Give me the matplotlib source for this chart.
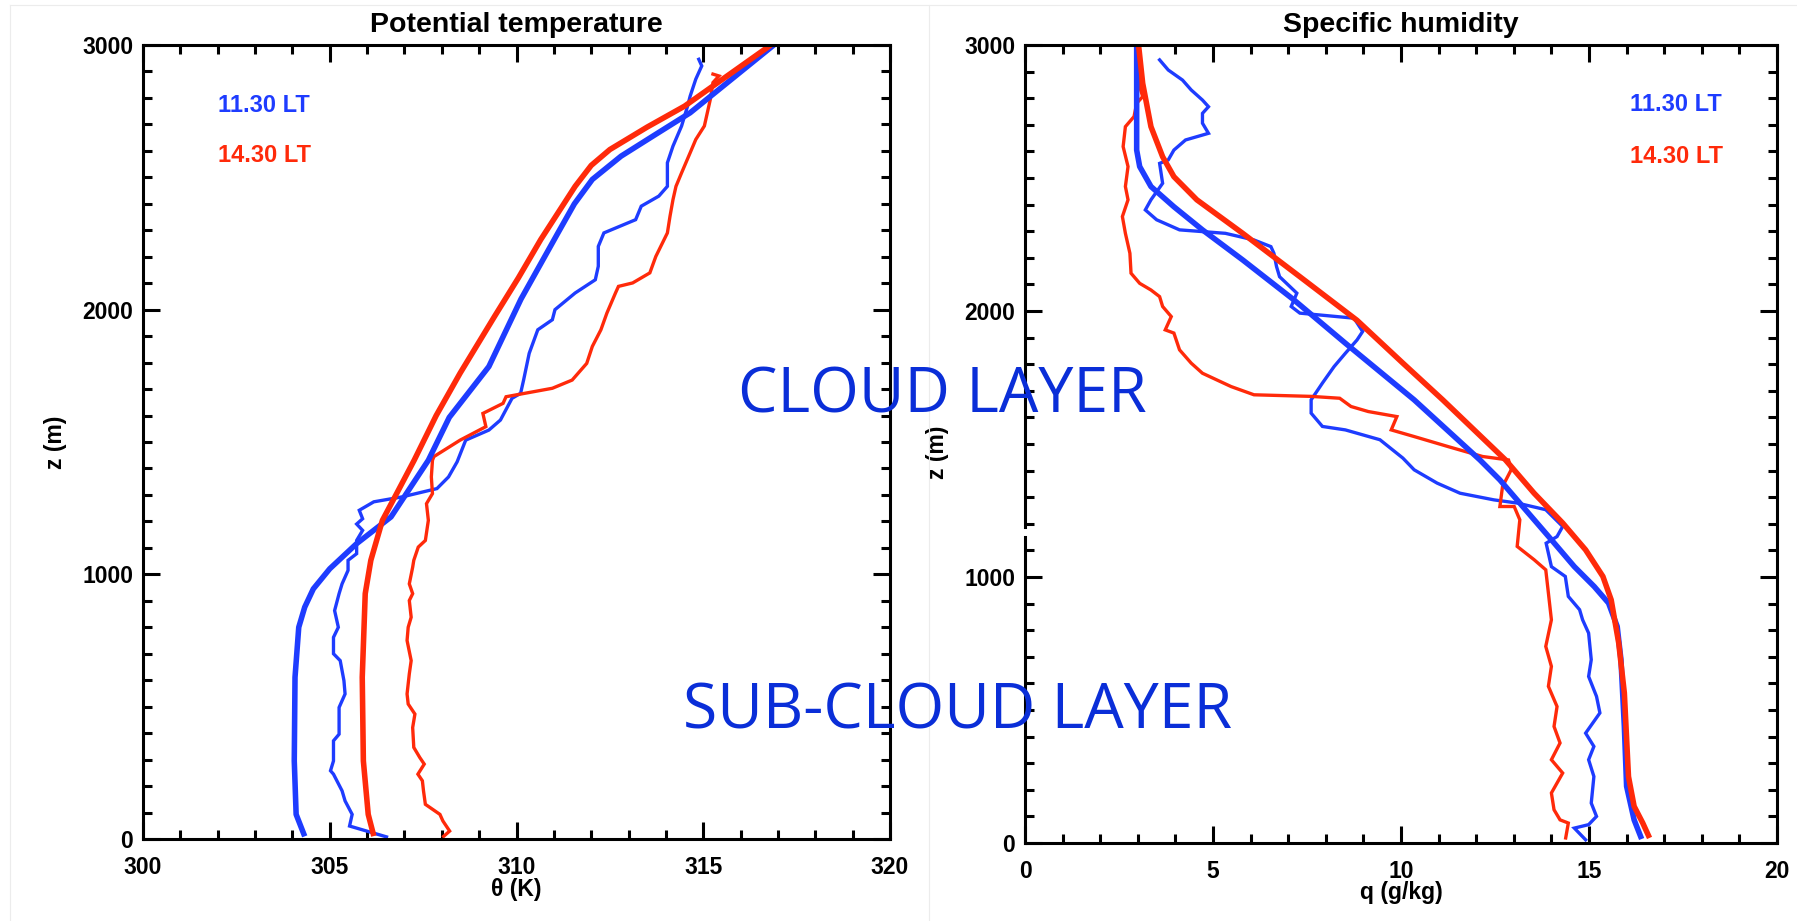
import matplotlib
matplotlib.use("Agg")
import matplotlib.pyplot as plt
from matplotlib.ticker import MultipleLocator
from matplotlib.lines import Line2D

# ---------------- data ----------------
# Potential temperature panel: model (thick) profiles
theta_mod_1130 = [304.33, 304.10, 304.05, 304.07, 304.17, 304.33, 304.56, 305.00, 305.72, 306.64,
                  307.64, 308.20, 309.26, 310.12, 311.11, 311.55, 312.03, 312.80, 313.70, 314.65,
                  316.89]
z_theta_mod_1130 = [10, 93, 295, 611, 800, 876, 945, 1021, 1116, 1217,
                    1431, 1593, 1785, 2040, 2290, 2400, 2492, 2580, 2660, 2744,
                    3000]

theta_mod_1430 = [306.18, 306.03, 305.90, 305.87, 305.95, 306.10, 306.41, 306.79, 307.26, 307.85,
                  308.49, 309.41, 310.05, 310.65, 311.57, 312.00, 312.50, 313.50, 314.50, 316.81]
z_theta_mod_1430 = [11, 93, 295, 611, 927, 1053, 1204, 1305, 1431, 1600,
                    1760, 1974, 2120, 2265, 2466, 2545, 2605, 2690, 2769, 3000]

# Potential temperature panel: observed (thin) profiles
theta_obs_1130 = [306.52, 305.53, 305.60, 305.41, 305.33, 305.10, 305.02, 305.10, 305.10, 305.25,
                  305.25, 305.41, 305.38, 305.28, 305.10, 305.10, 305.23, 305.13, 305.25, 305.33,
                  305.49, 305.49, 305.72, 305.72, 305.88, 305.72, 305.88, 305.79, 306.18, 306.95,
                  307.87, 308.18, 308.41, 308.64, 309.26, 309.57, 309.88, 310.11, 310.19, 310.34,
                  310.57, 310.96, 311.03, 311.57, 312.11, 312.19, 312.19, 312.34, 313.19, 313.34,
                  313.81, 314.04, 314.04, 314.19, 314.42, 314.58, 314.65, 314.80, 314.96, 314.88]
z_theta_obs_1130 = [8, 49, 93, 144, 182, 245, 258, 295, 371, 396,
                    497, 548, 598, 674, 700, 762, 800, 863, 927, 964,
                    1015, 1053, 1078, 1128, 1166, 1190, 1210, 1242, 1274, 1293,
                    1324, 1368, 1425, 1507, 1545, 1583, 1665, 1684, 1734, 1835,
                    1924, 1962, 2000, 2063, 2113, 2164, 2239, 2290, 2340, 2391,
                    2429, 2466, 2555, 2618, 2694, 2769, 2807, 2871, 2921, 2946]

theta_obs_1430 = [308.05, 308.21, 308.03, 307.95, 307.56, 307.51, 307.48, 307.36, 307.53, 307.41,
                  307.25, 307.22, 307.28, 307.10, 307.07, 307.13, 307.18, 307.07, 307.10, 307.18,
                  307.13, 307.22, 307.13, 307.22, 307.25, 307.37, 307.56, 307.64, 307.59, 307.75,
                  307.72, 307.75, 307.79, 308.49, 309.18, 309.10, 309.64, 309.72, 310.96, 311.49,
                  311.88, 312.03, 312.26, 312.42, 312.65, 312.73, 313.11, 313.57, 313.73, 314.04,
                  314.11, 314.19, 314.27, 314.42, 314.65, 314.80, 315.03, 315.19, 315.26, 315.42,
                  315.26]
z_theta_obs_1430 = [10, 30, 68, 93, 131, 182, 220, 245, 283, 308,
                    346, 421, 472, 510, 548, 624, 674, 750, 800, 838,
                    901, 927, 964, 1027, 1053, 1103, 1128, 1204, 1267, 1305,
                    1368, 1431, 1445, 1507, 1558, 1608, 1646, 1671, 1703, 1734,
                    1797, 1861, 1924, 1987, 2063, 2088, 2101, 2139, 2201, 2290,
                    2353, 2416, 2466, 2517, 2593, 2643, 2694, 2795, 2858, 2883,
                    2890]

# Specific humidity panel: model (thick) profiles
q_mod_1130 = [16.40, 16.20, 16.00, 15.94, 15.85, 15.75, 15.52, 15.14, 14.61, 14.00,
              13.39, 12.63, 12.10, 10.35, 8.52, 7.15, 5.79, 4.72, 3.96, 3.35,
              3.05, 2.97, 2.97, 2.97]
z_q_mod_1130 = [15, 87, 213, 438, 689, 814, 902, 964, 1039, 1140,
                1240, 1365, 1440, 1666, 1879, 2042, 2192, 2305, 2392, 2468,
                2543, 2605, 2731, 3000]

q_mod_1430 = [16.61, 16.43, 16.20, 16.05, 15.94, 15.79, 15.59, 15.37, 14.91, 14.30,
              13.54, 12.78, 11.11, 10.05, 8.83, 7.31, 5.79, 4.57, 3.96, 3.66,
              3.35, 3.13, 3.02]
z_q_mod_1430 = [19, 75, 138, 250, 564, 752, 914, 1002, 1102, 1203,
                1315, 1440, 1666, 1804, 1965, 2129, 2292, 2418, 2505, 2580,
                2693, 2856, 3000]

# Specific humidity panel: observed (thin) profiles
q_obs_1130 = [14.91, 14.61, 14.99, 15.20, 15.06, 15.13, 14.99, 15.13, 14.91, 15.29,
              15.20, 14.99, 15.06, 14.99, 14.83, 14.75, 14.45, 14.37, 14.00, 13.86,
              14.15, 14.30, 13.85, 13.09, 12.47, 11.57, 10.96, 10.35, 10.05, 9.44,
              8.52, 7.91, 7.61, 7.61, 7.91, 8.22, 8.52, 8.83, 8.98, 8.75,
              7.31, 7.08, 7.23, 6.77, 6.69, 6.62, 6.54, 6.09, 5.33, 4.11,
              3.50, 3.20, 3.35, 3.66, 3.58, 3.81, 3.96, 4.27, 4.88, 4.72,
              4.72, 4.88, 4.72, 4.42, 4.19, 3.81, 3.58]
z_q_obs_1130 = [12, 56, 69, 100, 150, 250, 313, 363, 413, 489,
                551, 626, 689, 789, 839, 877, 927, 1002, 1039, 1127,
                1152, 1190, 1253, 1278, 1290, 1315, 1353, 1403, 1447, 1516,
                1553, 1566, 1616, 1666, 1729, 1791, 1841, 1891, 1923, 1973,
                1992, 2017, 2067, 2129, 2167, 2217, 2242, 2267, 2292, 2305,
                2343, 2380, 2418, 2480, 2555, 2568, 2605, 2643, 2668, 2706,
                2743, 2768, 2793, 2831, 2868, 2906, 2944]

q_obs_1430 = [14.38, 14.45, 14.23, 14.07, 14.00, 14.30, 14.00, 14.23, 14.07, 14.15,
              13.92, 14.00, 13.85, 14.00, 13.92, 13.85, 13.54, 13.09, 13.16, 13.01,
              12.63, 12.70, 12.93, 12.86, 12.17, 11.26, 10.35, 9.74, 9.89, 9.13,
              8.67, 8.37, 7.61, 6.09, 5.48, 4.72, 4.42, 4.11, 3.96, 3.73,
              3.89, 3.66, 3.58, 3.35, 3.05, 2.82, 2.79, 2.67, 2.59, 2.74,
              2.67, 2.74, 2.61, 2.67, 2.90, 2.97, 3.13, 3.05, 3.02]
z_q_obs_1430 = [19, 75, 87, 125, 188, 263, 313, 376, 438, 513,
                589, 664, 739, 839, 940, 1027, 1065, 1115, 1215, 1265,
                1265, 1340, 1403, 1440, 1453, 1490, 1528, 1553, 1603, 1622,
                1641, 1672, 1679, 1685, 1716, 1766, 1804, 1854, 1917, 1929,
                1979, 2017, 2054, 2079, 2104, 2142, 2217, 2292, 2355, 2418,
                2468, 2543, 2618, 2693, 2731, 2781, 2806, 2843, 2881]

titles = ["Potential temperature", "Specific humidity"]
xlabels = ["\u03b8 (K)", "q (g/kg)"]
ylabel = "z (m)"
series_labels = ["11.30 LT", "14.30 LT"]
layer_labels = ["CLOUD LAYER", "SUB-CLOUD LAYER"]

# ---------------- style ----------------
BLUE = "#1e3cff"
RED = "#ff2a0a"
ANNOT = "#0a2ed8"
FONT = ["Liberation Sans", "DejaVu Sans"]
TICKFS = 16.5

fig = plt.figure(figsize=(17.97, 9.21), dpi=100)

# faint borders of the composed sub-images
for x0 in (10 / 1797, 929 / 1797):
    fig.add_artist(Line2D([x0, x0], [0, 1 - 5 / 921], transform=fig.transFigure,
                          color="#ececec", lw=0.8))
fig.add_artist(Line2D([10 / 1797, 1], [1 - 5 / 921, 1 - 5 / 921], transform=fig.transFigure,
                      color="#ececec", lw=0.8))

axL = fig.add_axes([143 / 1797, (921 - 839) / 921, 747 / 1797, 794 / 921])
axR = fig.add_axes([1025 / 1797, (921 - 843) / 921, 752 / 1797, 798 / 921])

thick = 4.0
thin = 2.4

axL.plot(theta_obs_1130, z_theta_obs_1130, color=BLUE, lw=thin, solid_joinstyle="miter")
axL.plot(theta_obs_1430, z_theta_obs_1430, color=RED, lw=thin, solid_joinstyle="miter")
axL.plot(theta_mod_1130, z_theta_mod_1130, color=BLUE, lw=thick, solid_capstyle="butt")
axL.plot(theta_mod_1430, z_theta_mod_1430, color=RED, lw=thick, solid_capstyle="butt")

axR.plot(q_obs_1130, z_q_obs_1130, color=BLUE, lw=thin, solid_joinstyle="miter")
axR.plot(q_obs_1430, z_q_obs_1430, color=RED, lw=thin, solid_joinstyle="miter")
axR.plot(q_mod_1130, z_q_mod_1130, color=BLUE, lw=thick, solid_capstyle="butt")
axR.plot(q_mod_1430, z_q_mod_1430, color=RED, lw=thick, solid_capstyle="butt")

axL.set_xlim(300, 320)
axR.set_xlim(0, 20)

for ax, title, xl in ((axL, titles[0], xlabels[0]), (axR, titles[1], xlabels[1])):
    ax.set_ylim(0, 3000)
    ax.xaxis.set_major_locator(MultipleLocator(5))
    ax.xaxis.set_minor_locator(MultipleLocator(1))
    ax.yaxis.set_major_locator(MultipleLocator(1000))
    ax.yaxis.set_minor_locator(MultipleLocator(100))
    ax.tick_params(which="both", direction="in", top=True, right=True, width=2.2, color="black")
    ax.tick_params(which="major", length=12)
    ax.tick_params(which="minor", length=6.5)
    ax.tick_params(axis="x", which="major", pad=12)
    ax.tick_params(axis="y", which="major", pad=7)
    for sp in ax.spines.values():
        sp.set_linewidth(2.2)
    for lab in ax.get_xticklabels() + ax.get_yticklabels():
        lab.set_fontfamily(FONT)
        lab.set_fontweight("bold")
        lab.set_fontsize(TICKFS)
    ax.set_title(title, fontsize=20.5, fontweight="bold", family=FONT, pad=9.5)
    ax.set_xlabel(xl, fontsize=TICKFS, fontweight="bold", family=FONT)
    ax.set_ylabel(ylabel, fontsize=TICKFS, fontweight="bold", family=FONT)

axL.xaxis.set_label_coords(0.5, -0.049)
axR.xaxis.set_label_coords(0.5, -0.047)
axL.yaxis.set_label_coords(-0.102, 0.5)
axR.yaxis.set_label_coords(-0.101, 0.49)

# broken left spine in the right panel (as in the original image)
axR.spines["left"].set_visible(False)
for y0, y1 in ((0, 0.383), (0.396, 1)):
    axR.add_line(Line2D([0, 0], [y0, y1], transform=axR.transAxes, color="black",
                        lw=2.2, clip_on=False, solid_capstyle="projecting"))

# series labels
axL.text(302.0, 2773, series_labels[0], color=BLUE, fontsize=17, fontweight="bold",
         family=FONT, ha="left", va="center")
axL.text(302.0, 2584, series_labels[1], color=RED, fontsize=17, fontweight="bold",
         family=FONT, ha="left", va="center")
axR.text(16.09, 2775, series_labels[0], color=BLUE, fontsize=17, fontweight="bold",
         family=FONT, ha="left", va="center")
axR.text(16.09, 2580, series_labels[1], color=RED, fontsize=17, fontweight="bold",
         family=FONT, ha="left", va="center")

# layer annotations on top of everything
fig.text(942 / 1797, 1 - 412 / 921, layer_labels[0], color=ANNOT, fontsize=45,
         family=["Open Sans", "DejaVu Sans"], ha="center", va="baseline", zorder=10)
fig.text(958 / 1797, 1 - 728 / 921, layer_labels[1], color=ANNOT, fontsize=45,
         family=["Open Sans", "DejaVu Sans"], ha="center", va="baseline", zorder=10)

fig.savefig("out.png", dpi=100)
